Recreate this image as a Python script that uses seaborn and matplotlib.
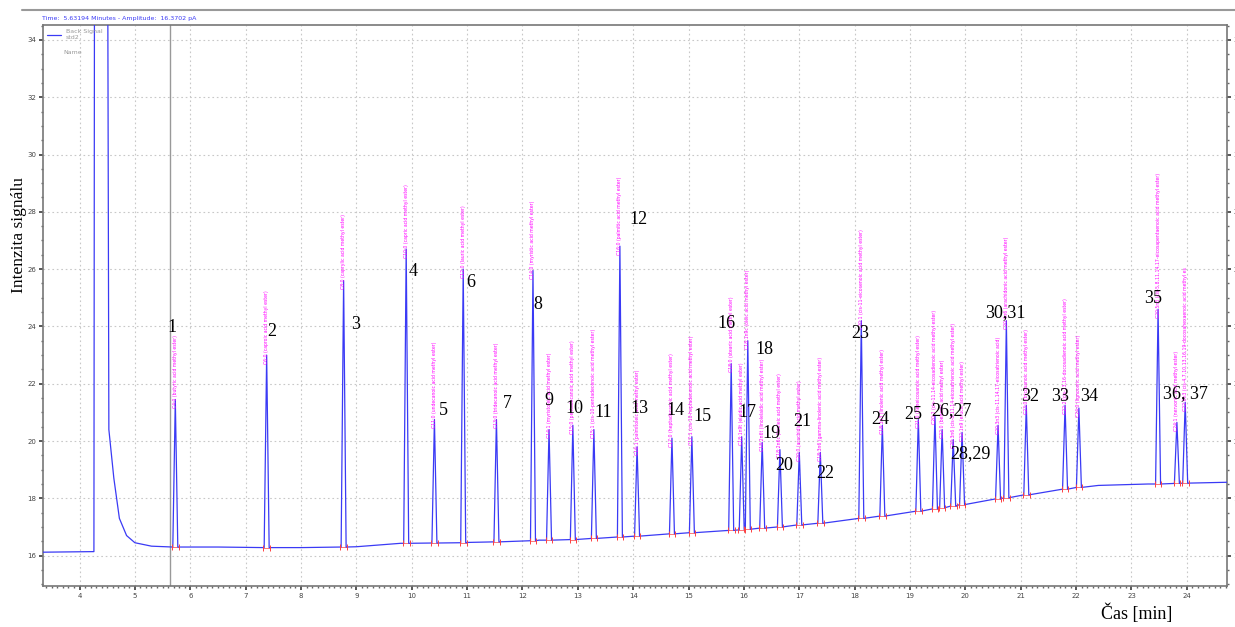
import numpy as np
import pandas as pd
import matplotlib
matplotlib.use("Agg")
import matplotlib.pyplot as plt
from matplotlib.ticker import MultipleLocator
import seaborn as sns

# ---------------- data ----------------
peak_times = [5.73, 7.38, 8.77, 9.90, 10.41, 10.93, 11.53, 12.19, 12.48, 12.91,
              13.29, 13.76, 14.07, 14.70, 15.06, 15.77, 15.96, 16.07, 16.33, 16.65,
              17.00, 17.38, 18.12, 18.50, 19.15, 19.45, 19.58, 19.78, 19.94, 20.59,
              20.74, 21.10, 21.80, 22.05, 23.48, 23.82, 23.97]
peak_heights = [21.45, 23.0, 25.6, 26.7, 20.75, 26.0, 20.75, 25.95, 20.4, 20.55,
                20.4, 26.8, 19.8, 20.1, 20.15, 22.7, 20.15, 23.5, 19.95, 19.7,
                19.6, 19.6, 24.2, 20.55, 20.75, 20.9, 20.4, 20.05, 20.3, 20.55,
                24.2, 21.25, 21.25, 21.15, 24.6, 20.65, 21.35]
peak_bases = [16.30, 16.28, 16.30, 16.43, 16.44, 16.45, 16.48, 16.52, 16.54, 16.56,
              16.60, 16.65, 16.68, 16.76, 16.80, 16.88, 16.90, 16.92, 16.96, 17.00,
              17.07, 17.13, 17.30, 17.38, 17.55, 17.63, 17.67, 17.73, 17.78, 17.98,
              18.02, 18.12, 18.32, 18.38, 18.50, 18.52, 18.53]
peak_names = [
    "C4:0 (butyric acid methyl ester)", "C6:0 (caproic acid methyl ester)",
    "C8:0 (caprylic acid methyl ester)", "C10:0 (capric acid methyl ester)",
    "C11:0 (undecanoic acid methyl ester)", "C12:0 (lauric acid methyl ester)",
    "C13:0 (tridecanoic acid methyl ester)", "C14:0 (myristic acid methyl ester)",
    "C14:1 (myristoleic acid methyl ester)", "C15:0 (pentadecanoic acid methyl ester)",
    "C15:1 (cis-10-pentadecenoic acid methyl ester)", "C16:0 (palmitic acid methyl ester)",
    "C16:1 (palmitoleic acid methyl ester)", "C17:0 (heptadecanoic acid methyl ester)",
    "C17:1 (cis-10-heptadecenoic acid methyl ester)", "C18:0 (stearic acid methyl ester)",
    "C18:1n9t (elaidic acid methyl ester)", "C18:1n9c (oleic acid methyl ester)",
    "C18:2n6t (linolelaidic acid methyl ester)", "C18:2n6c (linoleic acid methyl ester)",
    "C20:0 (arachidic acid methyl ester)", "C18:3n6 (gamma-linolenic acid methyl ester)",
    "C20:1 (cis-11-eicosenoic acid methyl ester)", "C18:3n3 (linolenic acid methyl ester)",
    "C21:0 (heneicosanoic acid methyl ester)", "C20:2 (cis-11,14-eicosadienoic acid methyl ester)",
    "C22:0 (behenic acid methyl ester)", "C20:3n6 (cis-8,11,14-eicosatrienoic acid methyl ester)",
    "C22:1n9 (erucic acid methyl ester)", "C20:3n3 (cis-11,14,17-eicosatrienoic acid)",
    "C20:4n6 (arachidonic acid methyl ester)", "C23:0 (tricosanoic acid methyl ester)",
    "C22:2 (cis-13,16-docosadienoic acid methyl ester)", "C24:0 (lignoceric acid methyl ester)",
    "C20:5n3 (cis-5,8,11,14,17-eicosapentaenoic acid methyl ester)",
    "C24:1 (nervonic acid methyl ester)",
    "C22:6n3 (cis-4,7,10,13,16,19-docosahexaenoic acid methyl es",
]

baseline_t = [3.34, 4.25, 5.3, 6.5, 8.0, 9.0, 9.8, 11.0, 12.3, 14.1, 16.3,
              18.1, 19.5, 20.6, 21.7, 22.4, 23.3, 24.0, 24.72]
baseline_v = [16.12, 16.14, 16.33, 16.30, 16.28, 16.31, 16.43, 16.46, 16.54, 16.70,
              16.95, 17.30, 17.65, 18.00, 18.30, 18.45, 18.50, 18.54, 18.56]

solvent_t = [4.26, 4.27, 4.51, 4.53, 4.62, 4.72, 4.85, 5.0]
solvent_v = [16.14, 36.0, 36.0, 20.4, 18.7, 17.3, 16.7, 16.45]

label_text = ["1", "2", "3", "4", "5", "6", "7", "8", "9", "10", "11", "12", "13",
              "14", "15", "16", "17", "18", "19", "20", "21", "22", "23", "24", "25",
              "26,27", "28,29", "30,31", "32", "33", "34", "35", "36, 37"]
label_t = [5.67, 7.48, 8.98, 10.03, 10.57, 11.06, 11.72, 12.28, 12.48, 12.93, 13.46,
           14.09, 14.11, 14.76, 15.26, 15.68, 16.06, 16.37, 16.49, 16.73, 17.05,
           17.47, 18.10, 18.46, 19.06, 19.74, 20.10, 20.72, 21.17, 21.71, 22.23,
           23.39, 23.97]
label_v = [23.95, 23.84, 24.05, 25.9, 21.05, 25.52, 21.3, 24.75, 21.43, 21.15, 20.98,
           27.72, 21.15, 21.05, 20.84, 24.09, 20.98, 23.2, 20.25, 19.13, 20.67,
           18.85, 23.74, 20.74, 20.91, 21.05, 19.55, 24.5, 21.54, 21.54, 21.54,
           24.96, 21.64]

cursor_time = 5.63194
x_ticks = list(range(4, 25))
y_ticks = list(range(16, 35, 2))

# ---------------- build the trace from the read points ----------------
half_w = 0.045
pts = []
for t, v in zip(baseline_t, baseline_v):
    if all(abs(t - p) > 0.07 for p in peak_times) and not (4.2 < t < 5.05):
        pts.append((t, v))
pts += list(zip(solvent_t, solvent_v))
for t, h, b in zip(peak_times, peak_heights, peak_bases):
    pts += [(t - half_w, b), (t, h), (t + half_w, b)]
pts.sort(key=lambda p: p[0])
trace = pd.DataFrame(pts, columns=["time", "signal"])

# ---------------- figure ----------------
sns.set_theme(style="white")
plt.rcParams["font.family"] = ["DejaVu Sans"]
fig = plt.figure(figsize=(12.35, 6.27), dpi=100)
ax = fig.add_axes([0.0348, 0.0654, 0.9585, 0.8947])

ax.axvline(cursor_time, color="#999999", lw=1.0, zorder=1)
sns.lineplot(data=trace, x="time", y="signal", ax=ax, color="#3a3af5", lw=0.9,
             estimator=None, sort=False, label="Back Signal\nstd2", zorder=3)

# integration markers
for t, b in zip(peak_times, peak_bases):
    ax.plot([t - 0.06, t + 0.06], [b, b], color="#ff6060", lw=0.6, zorder=2)
    ax.plot([t - 0.06, t + 0.06], [b, b], ls="none", marker="|", ms=5,
            mew=0.7, color="#ff4040", zorder=4)

# compound labels (magenta, vertical)
for t, h, name in zip(peak_times, peak_heights, peak_names):
    ax.text(t, h - 0.3, name, rotation=90, fontsize=3.3, color="#ff00ff",
            ha="center", va="bottom", zorder=5)

# peak numbers
for s, t, v in zip(label_text, label_t, label_v):
    ax.text(t, v, s, fontsize=13, family="Liberation Serif", color="black",
            ha="center", va="center", zorder=6)

ax.set_xlim(3.34, 24.72)
ax.set_ylim(14.94, 34.52)
ax.set_xticks(x_ticks)
ax.set_yticks(y_ticks)
ax.xaxis.set_minor_locator(MultipleLocator(0.1))
ax.yaxis.set_minor_locator(MultipleLocator(0.5))
ax.grid(True, which="major", ls=(0, (1.5, 2.5)), color="#c8c8c8", lw=0.8)
ax.tick_params(which="major", length=3, labelsize=5, colors="#444444",
               right=True, labelright=True, bottom=True, left=True, direction="out",
               pad=2)
ax.tick_params(which="minor", length=1.5, right=True, bottom=True, left=True,
               color="#666666")
for sp in ax.spines.values():
    sp.set_color("#777777")
    sp.set_linewidth(1.2)

ax.set_xlabel("")
ax.set_ylabel("")
fig.text(0.0150, 0.625, "Intenzita signálu", family="Liberation Serif",
         fontsize=12.5, color="black", rotation=90, ha="center", va="center")
fig.text(0.920, 0.022, "Čas [min]", family="Liberation Serif", fontsize=13,
         ha="center", va="center", color="black")

leg = ax.legend(loc="upper left", frameon=False, fontsize=4.5, labelcolor="#999999",
                handlelength=2.2, borderaxespad=0.3)
ax.text(0.017, 0.955, "Name", transform=ax.transAxes, fontsize=4.5,
        color="#999999", va="top", ha="left")

# header
fig.add_artist(plt.Line2D([0.018, 1.0], [0.984, 0.984], color="#999999", lw=1.5))
fig.text(0.034, 0.975, "Time:  5.63194 Minutes - Amplitude:  16.3702 pA",
         fontsize=4.5, color="#3a3af5", va="top", ha="left")

fig.savefig("out.png", dpi=100)
